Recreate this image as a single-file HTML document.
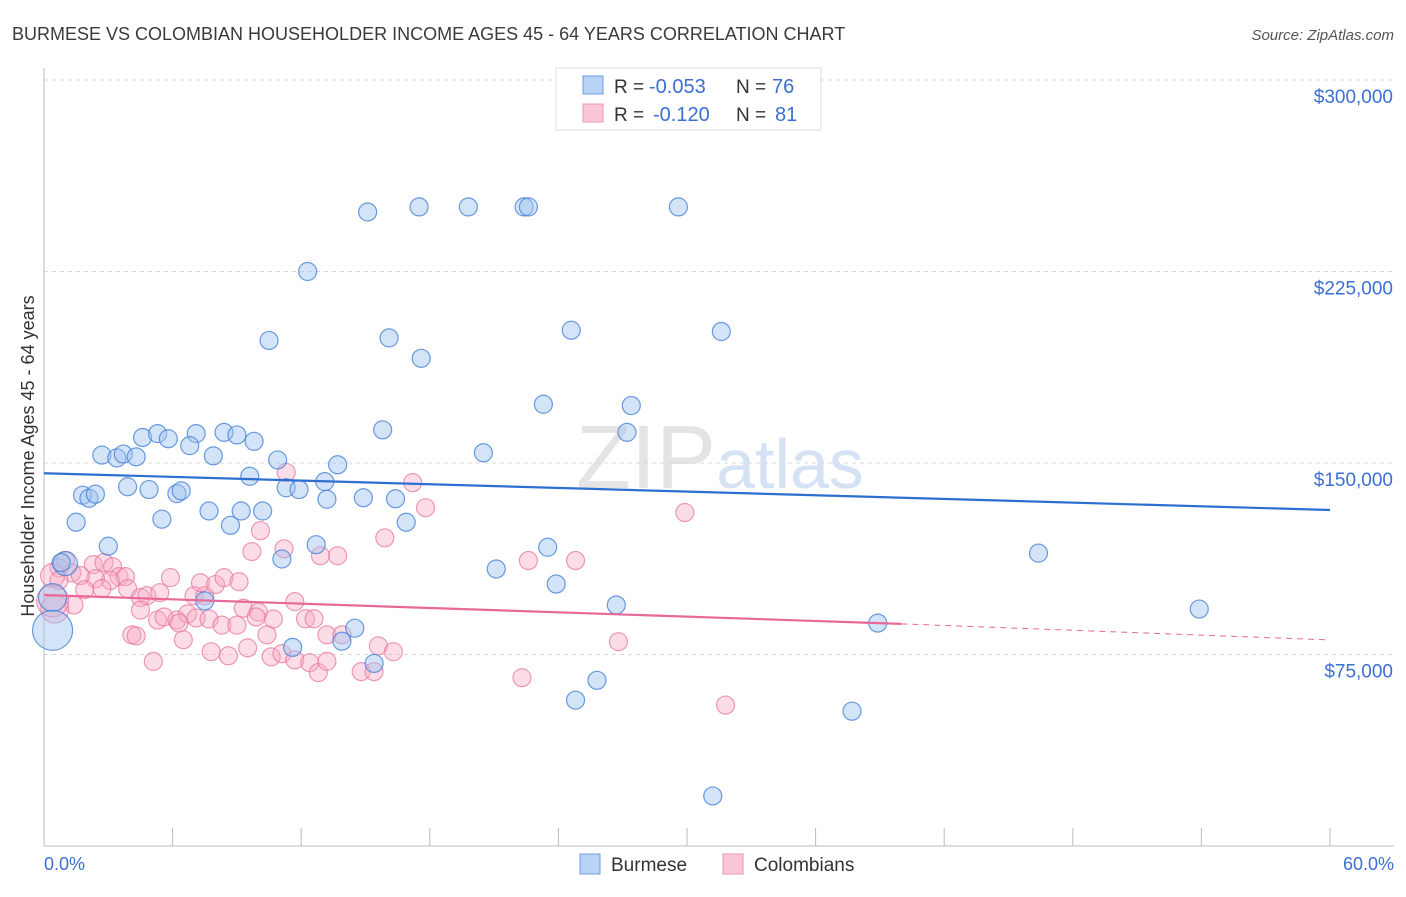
<!DOCTYPE html>
<html><head><meta charset="utf-8"><style>
body{margin:0;background:#fff;font-family:"Liberation Sans",sans-serif;}
svg text{font-family:"Liberation Sans",sans-serif;}
</style></head><body>
<svg id="c" width="1406" height="892">
<text x="12" y="40" font-size="18" fill="#3a3a3a">BURMESE VS COLOMBIAN HOUSEHOLDER INCOME AGES 45 - 64 YEARS CORRELATION CHART</text>
<text x="1394" y="40" font-size="15" fill="#555" font-style="italic" text-anchor="end">Source: ZipAtlas.com</text>
<text x="720" y="488" font-size="90" fill="#e4e4e4" text-anchor="middle" font-family="Liberation Serif">ZIP<tspan fill="#d5e2f4" font-family="Liberation Sans" font-size="70">atlas</tspan></text>
<g id="grid"></g><g id="axes"></g><g id="pts"></g><g id="lines"></g>
<text x="34" y="456" font-size="18" fill="#333" text-anchor="middle" transform="rotate(-90 34 456)">Householder Income Ages 45 - 64 years</text>
<text x="44" y="870" font-size="18" fill="#3b6fd4">0.0%</text>
<text x="1394" y="870" font-size="18" fill="#3b6fd4" text-anchor="end">60.0%</text>
<g>
<rect x="556" y="68" width="265" height="62" fill="#fff" stroke="#ddd"/>
<rect x="583" y="76" width="20" height="18" fill="#b9d3f5" stroke="#6d9ee3"/>
<rect x="583" y="104" width="20" height="18" fill="#f9c7d6" stroke="#ec94b0"/>
<text x="614" y="93" font-size="19" fill="#333">R =</text>
<text x="649" y="93" font-size="20" fill="#3b6fd4">-0.053</text>
<text x="736" y="93" font-size="19" fill="#333">N =</text>
<text x="772" y="93" font-size="20" fill="#3b6fd4">76</text>
<text x="614" y="121" font-size="19" fill="#333">R =</text>
<text x="653" y="121" font-size="20" fill="#3b6fd4">-0.120</text>
<text x="736" y="121" font-size="19" fill="#333">N =</text>
<text x="775" y="121" font-size="20" fill="#3b6fd4">81</text>
</g>
<g>
<rect x="580" y="854" width="20" height="20" fill="#b9d3f5" stroke="#6d9ee3"/>
<text x="611" y="871" font-size="19" fill="#333">Burmese</text>
<rect x="723" y="854" width="20" height="20" fill="#f9c7d6" stroke="#ec94b0"/>
<text x="754" y="871" font-size="19" fill="#333">Colombians</text>
</g>
</svg>
<script>
const yTicks=[300000,225000,150000,75000];
const yTickLabels=["$300,000","$225,000","$150,000","$75,000"];
const burmeseX=[15.1,17.5,19.8,22.4,22.6,29.6,12.3,24.6,31.6,10.5,16.1,17.6,23.3,27.4,27.2,15.8,4.6,5.3,5.8,7.1,8.4,9.0,9.8,6.8,2.7,3.4,3.7,4.3,7.9,20.5,10.9,13.7,9.6,13.1,3.9,4.9,6.2,6.4,11.3,11.9,1.8,2.1,2.4,13.2,14.9,16.4,7.7,9.2,10.2,5.5,8.7,16.9,1.5,3.0,12.7,23.5,46.4,11.1,21.1,23.9,1.0,0.8,26.7,53.9,7.5,0.4,38.9,14.5,13.9,11.6,15.4,25.8,24.8,37.7,31.2,0.4];
const burmeseY=[248300,250300,250300,250300,250300,250300,225000,202000,201500,198000,199000,191000,173000,172500,162000,163000,160000,161500,159500,161500,162000,161000,158500,156800,153100,152000,153500,152400,152800,154000,151200,149300,144800,142700,140700,139600,138000,139100,140300,139600,137400,136200,137800,135800,136400,136000,131200,131200,131200,128000,125600,126800,126800,117400,118000,117000,114700,112400,108500,102600,110600,111000,94400,92800,96000,97300,87300,85300,80200,77800,71500,64900,57100,52800,19600,84500];
const burmeseR=[9,9,9,9,9,9,9,9,9,9,9,9,9,9,9,9,9,9,9,9,9,9,9,9,9,9,9,9,9,9,9,9,9,9,9,9,9,9,9,9,9,9,9,9,9,9,9,9,9,9,9,9,9,9,9,9,9,9,9,9,12,9,9,9,9,14,9,9,9,9,9,9,9,9,9,20];
const colX=[11.3,17.2,17.8,29.9,10.1,9.7,11.2,12.9,13.7,15.9,22.6,24.8,1.0,0.7,1.3,2.3,2.8,3.2,3.5,3.1,2.4,1.7,0.4,0.7,3.8,1.9,2.7,3.9,4.5,4.8,5.4,7.0,7.5,5.9,7.3,8.0,8.4,9.1,1.4,4.5,5.3,5.6,6.2,6.7,6.3,7.1,7.7,8.3,9.0,9.3,10.0,10.7,9.9,11.7,12.2,12.6,4.1,4.3,6.5,7.8,8.6,9.5,10.4,10.6,11.1,11.7,12.4,12.8,13.2,13.2,13.9,14.8,15.4,15.6,16.3,22.3,26.8,31.8,5.1,0.5,0.4];
const colY=[146300,142300,132500,130600,123500,115300,116400,113700,113700,120700,111800,111800,111800,109000,107000,110200,111000,109400,105500,104000,104700,105900,105900,104000,105500,100400,100800,100800,97300,98000,99200,98000,98000,105100,103100,102400,105100,103500,94400,92400,88500,89700,88500,90900,87300,89300,88900,86500,86500,93100,91600,88900,89700,95700,89000,89000,82700,82300,80800,76100,74500,77600,82700,74100,75300,72900,71800,67900,82700,72300,82700,68300,68300,78400,76100,65900,80000,55200,72300,92800,96000];
const colR=[9,9,9,9,9,9,9,9,9,9,9,9,9,9,9,9,9,9,9,9,9,9,12,9,9,9,9,9,9,9,9,9,9,9,9,9,9,9,9,9,9,9,9,9,9,9,9,9,9,9,9,9,9,9,9,9,9,9,9,9,9,9,9,9,9,9,9,9,9,9,9,9,9,9,9,9,9,9,9,14,16];
const trendB=[146000,131600];
const trendC=[98300,87000,80700];
const NS="http://www.w3.org/2000/svg";
const X=v=>44+v/60*1286;
const Y=v=>80+(300000-v)/75000*191.5;
function mk(tag,attrs,parent){const e=document.createElementNS(NS,tag);for(const k in attrs)e.setAttribute(k,attrs[k]);document.getElementById(parent).appendChild(e);return e;}
yTicks.forEach((t,i)=>{
  const l=mk('line',{x1:44,x2:1394,y1:Y(t),y2:Y(t),stroke:'#d8d8d8','stroke-dasharray':'4,4'},'grid');
  
  
  const tx=mk('text',{x:1393,y:Y(t)+23,'font-size':19,fill:'#3b6fd4','text-anchor':'end'},'grid');
  tx.textContent=yTickLabels[i];
  
  
});
const ax=mk('line',{x1:44,x2:44,y1:68,y2:846,stroke:'#bbb'},'axes');


const bx=mk('line',{x1:44,x2:1394,y1:846,y2:846,stroke:'#bbb'},'axes');


for(let i=0;i<=10;i++){const t=mk('line',{x1:X(i*6),x2:X(i*6),y1:828,y2:846,stroke:'#bbb'},'axes');

}
colX.forEach((v,i)=>{const c=mk('circle',{cx:X(v),cy:Y(colY[i]),r:colR[i],fill:'rgba(247,170,195,0.4)',stroke:'rgba(232,120,160,0.75)','stroke-width':1.2},'pts');

});
burmeseX.forEach((v,i)=>{const c=mk('circle',{cx:X(v),cy:Y(burmeseY[i]),r:burmeseR[i],fill:'rgba(160,195,240,0.45)',stroke:'rgba(70,130,215,0.8)','stroke-width':1.2},'pts');

});
const lb=mk('line',{x1:X(0),y1:Y(trendB[0]),x2:X(60),y2:Y(trendB[1]),stroke:'#2c6fd1','stroke-width':2.2},'lines');


const lc=mk('line',{x1:X(0),y1:Y(trendC[0]),x2:X(40),y2:Y(trendC[1]),stroke:'#e8689a','stroke-width':2.2},'lines');


const ld=mk('line',{x1:X(40),y1:Y(trendC[1]),x2:X(60),y2:Y(trendC[2]),stroke:'#e8689a','stroke-width':1,'stroke-dasharray':'6,5'},'lines');


</script>
</body></html>
